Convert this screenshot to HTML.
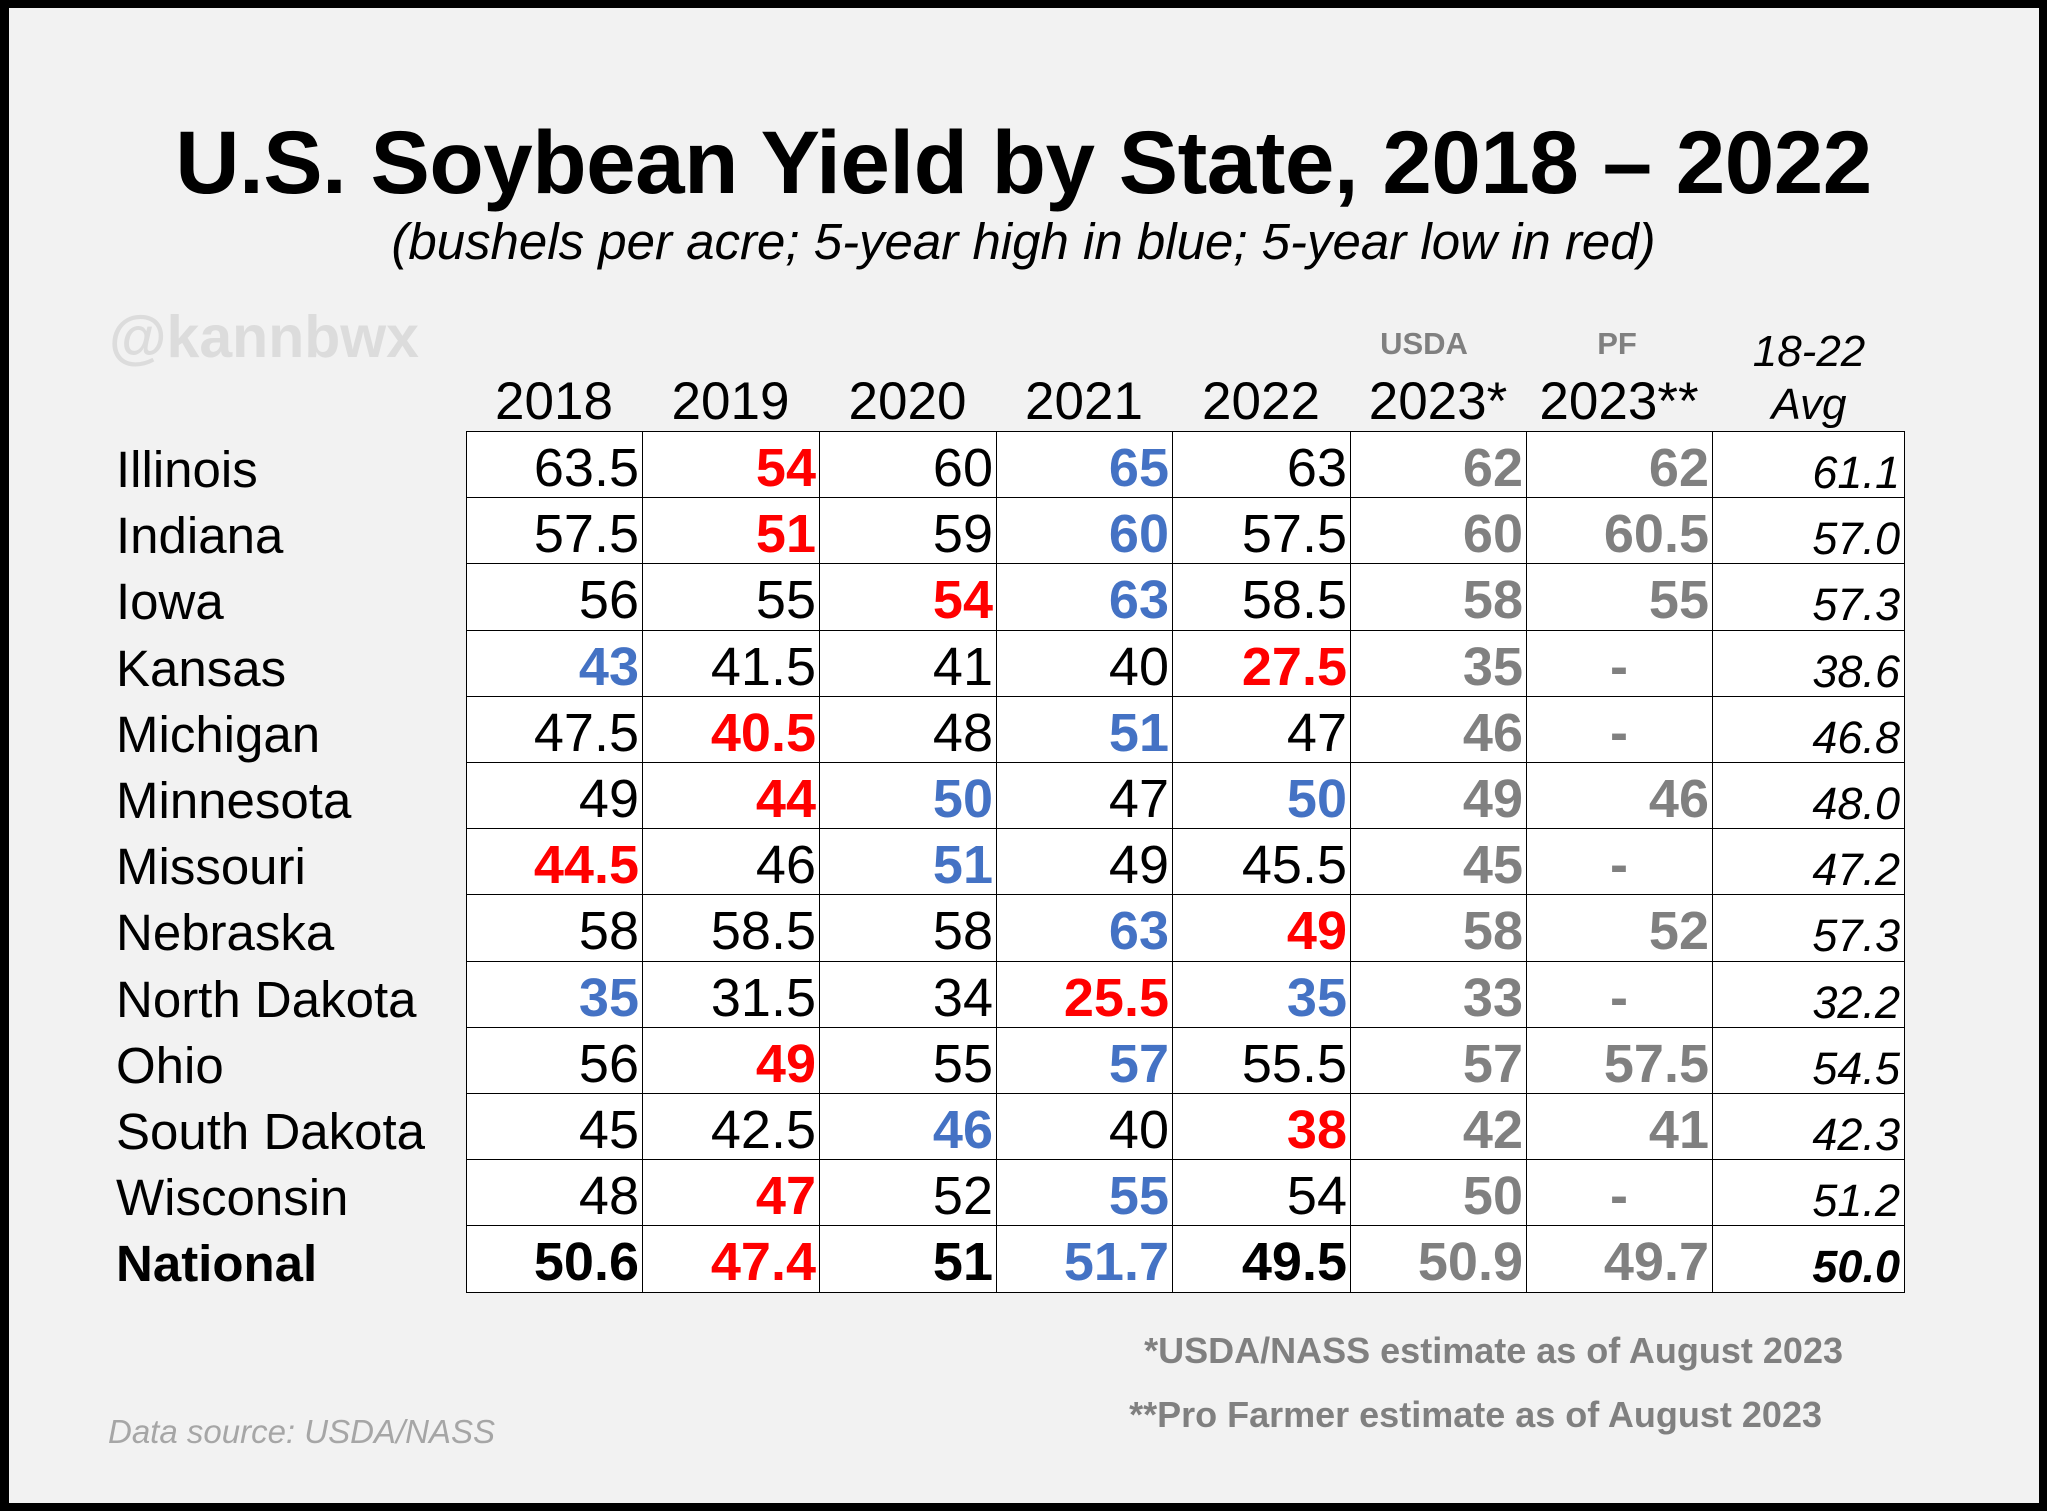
<!DOCTYPE html>
<html><head><meta charset="utf-8">
<style>
html,body{margin:0;padding:0;}
body{width:2047px;height:1511px;background:#000;position:relative;overflow:hidden;font-family:"Liberation Sans",Arial,sans-serif;}
#frame{position:absolute;left:9px;top:8px;width:2030px;height:1495px;background:#f2f2f2;}
.t{position:absolute;white-space:nowrap;}
.cell{position:absolute;background:#fff;border:1.5px solid #000;box-sizing:border-box;}
.num{position:absolute;white-space:nowrap;line-height:1;}
</style></head>
<body>
<div id="frame"></div>
<div class="t" style="left:0;width:2047px;text-align:center;top:111px;font-size:89px;font-weight:bold;letter-spacing:-0.5px;">U.S. Soybean Yield by State, 2018 – 2022</div>
<div class="t" style="left:0;width:2047px;text-align:center;top:212px;font-size:51px;font-style:italic;">(bushels per acre; 5-year high in blue; 5-year low in red)</div>
<div class="t" style="left:109px;top:303px;font-size:59px;font-weight:bold;color:#dcdcdc;">@kannbwx</div>
<div id="tbl"></div>
<div class="t" style="right:204px;top:1330px;font-size:36px;font-weight:bold;color:#808080;">*USDA/NASS estimate as of August 2023</div>
<div class="t" style="right:225px;top:1394px;font-size:36px;font-weight:bold;color:#808080;">**Pro Farmer estimate as of August 2023</div>
<div class="t" style="left:108px;top:1413px;font-size:33px;font-style:italic;color:#a6a6a6;">Data source: USDA/NASS</div>
<script>
const states=["Illinois","Indiana","Iowa","Kansas","Michigan","Minnesota","Missouri","Nebraska","North Dakota","Ohio","South Dakota","Wisconsin","National"];
const years=["2018","2019","2020","2021","2022","2023*","2023**"];
const y2018=["63.5","57.5","56","43","47.5","49","44.5","58","35","56","45","48","50.6"];
const y2019=["54","51","55","41.5","40.5","44","46","58.5","31.5","49","42.5","47","47.4"];
const y2020=["60","59","54","41","48","50","51","58","34","55","46","52","51"];
const y2021=["65","60","63","40","51","47","49","63","25.5","57","40","55","51.7"];
const y2022=["63","57.5","58.5","27.5","47","50","45.5","49","35","55.5","38","54","49.5"];
const usda2023=["62","60","58","35","46","49","45","58","33","57","42","50","50.9"];
const pf2023=["62","60.5","55","-","-","46","-","52","-","57.5","41","-","49.7"];
const avg=["61.1","57.0","57.3","38.6","46.8","48.0","47.2","57.3","32.2","54.5","42.3","51.2","50.0"];
const colX=[466,642,819,996,1172,1350,1526,1712,1903];
const top0=431,rowH=66.2;
const body=document.body;
function add(cls,name,style,text){
  const d=document.createElement('div');d.className=cls;
  
  
  d.style.cssText=style;if(text!==undefined)d.textContent=text;body.appendChild(d);return d;
}
years.forEach((y,i)=>{
  const cx=(colX[i]+colX[i+1])/2;
  add('t','column-header-'+y,`left:${cx-150}px;width:300px;text-align:center;top:371px;font-size:53px;`,y);
});
add('t','usda-label',`left:1324px;width:200px;text-align:center;top:326px;font-size:31px;font-weight:bold;color:#808080;`,'USDA');
add('t','pf-label',`left:1517px;width:200px;text-align:center;top:326px;font-size:31px;font-weight:bold;color:#808080;`,'PF');
add('t','avg-header-range',`left:1709px;width:200px;text-align:center;top:327px;font-size:44px;font-style:italic;`,'18-22');
add('t','avg-header-label',`left:1709px;width:200px;text-align:center;top:380px;font-size:44px;font-style:italic;`,'Avg');
const series=[y2018,y2019,y2020,y2021,y2022];
states.forEach((s,r)=>{
  const top=top0+r*rowH;
  const nat=r===states.length-1;
  add('t','state-'+s.toLowerCase().replace(/ /g,'-'),`left:116px;top:${top+9}px;font-size:51px;${nat?'font-weight:bold;':''}`,s);
  const vals=series.map(a=>parseFloat(a[r]));
  const mx=Math.max(...vals),mn=Math.min(...vals);
  const row=[...series.map(a=>a[r]),usda2023[r],pf2023[r],avg[r]];
  row.forEach((v,c)=>{
    const x=colX[c],w=colX[c+1]-x;
    add('cell','cell-'+r+'-'+c,`left:${x}px;top:${top}px;width:${w+1.5}px;height:${rowH+1.5}px;`);
    let st='font-size:54px;';let color='#000';
    if(c<5){const n=parseFloat(v);if(n===mx){color='#4472C4';st+='font-weight:bold;';}else if(n===mn){color='#FF0000';st+='font-weight:bold;';}else if(nat)st+='font-weight:bold;';}
    else if(c<7){color='#808080';st+='font-weight:bold;';}
    else{st='font-size:45px;font-style:italic;'+(nat?'font-weight:bold;':'');}
    let pos;
    if(v==='-'){pos=`left:${x}px;width:${w}px;text-align:center;`;}
    else{pos=`left:${x}px;width:${w-3}px;text-align:right;`;}
    const ty=c===7?top+19:top+10;
    add('num','value-'+r+'-'+c,`${pos}top:${ty}px;color:${color};${st}`,v);
  });
});
</script>
</body></html>
